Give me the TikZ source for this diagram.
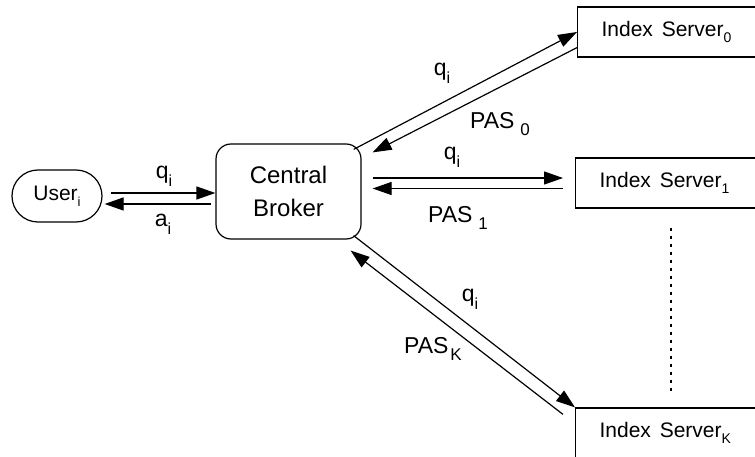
\documentclass[tikz,border=0pt]{standalone}
\usepackage{fontspec}
\setmainfont{Liberation Sans}
\usetikzlibrary{arrows.meta,calc,shapes.misc}
% lowered, smaller subscript: [#1] = drop, #2 = font size in pt, #3 = text
\newcommand\sbs[3][0.28em]{\raisebox{-#1}{\fontsize{#2}{#2}\selectfont #3}}
\newcommand\qi{q\sbs[0.36em]{16}{i}}
\newcommand\idxsrv{Index\hspace{0.42em}Server}

\begin{document}
\begin{tikzpicture}[x=1pt,y=-1pt,
  every node/.style={inner sep=0pt, font=\fontsize{21}{25}\selectfont},
  lbl/.style={font=\fontsize{23}{27}\selectfont},
  boxline/.style={draw, line width=1.2pt},
  serverbox/.style={boxline, minimum height=50pt, text width=150pt,
    inner xsep=24pt, align=left, anchor=west},
  arr/.style={line width=1.2pt, -{Triangle[length=19pt,width=13pt]}},
  dotline/.style={line width=2.2pt, dash pattern=on 3.5pt off 4.5pt},
  ]
\clip (0,0) rectangle (755,457);
\fill[white] (0,0) rectangle (755,457);

% nodes
\node[boxline, rounded rectangle, minimum width=90pt, minimum height=52pt]
  (user) at (57,196) {User\sbs{13}{i}};
\node[boxline, rounded corners=15pt, minimum width=145pt, minimum height=95pt,
  align=center, font=\fontsize{24}{33}\selectfont]
  (broker) at (288.5,191.5) {Central\\Broker};
\node[serverbox] (s0) at (577,32)  {\idxsrv\sbs{14}{0}};
\node[serverbox] (s1) at (575,183) {\idxsrv\sbs{14}{1}};
\node[serverbox] (sK) at (575,433) {\idxsrv\sbs{14}{K}};

% helper points on common rows
\coordinate (mu) at (broker.west |- user.east);
\coordinate (m1) at (broker.east |- s1.west);

% user <-> broker
\draw[arr] ($(user.east)+(8,-3)$) -- ($(mu)+(0,-3)$);
\draw[arr] ($(mu)+(-4,8)$) -- ($(user.east)+(2,8)$);

% broker <-> server 0
\draw[arr] ($(broker.north east)+(-8,6)$) -- (s0.west);
\draw[arr] ($(s0.south west)+(0,-10)$) -- ($(broker.north east)+(11,9)$);

% broker <-> server 1
\draw[arr] ($(m1)+(11,-5)$) -- ($(s1.west)+(-12,-5)$);
\draw[arr] ($(s1.west)+(-12,5.5)$) -- ($(m1)+(11,5.5)$);

% broker <-> server K
\draw[arr] ($(broker.south east)+(-8,-4)$) -- (sK.north west);
\draw[arr] ($(sK.north west)+(-12,7)$) -- ($(broker.south east)+(-11,11)$);

% servers in between
\draw[dotline] ($(s1.south)+(-4,19)$) -- ($(sK.north)+(-4,-15)$);

% labels
\node[lbl] (lqu) at (164,176) {\qi};
\node[lbl] (lau) at (163,224) {a\sbs[0.36em]{16}{i}};
\node[lbl] (lq0) at (442,73)  {\qi};
\node[lbl] (lp0) at (500,124) {PAS\hspace{6pt}\sbs{17}{0}};
\node[lbl] (lq1) at (452,157) {\qi};
\node[lbl] (lp1) at (458,218) {PAS\hspace{6pt}\sbs{17}{1}};
\node[lbl] (lqK) at (470,299) {\qi};
\node[lbl] (lpK) at (433,349) {PAS\hspace{2pt}\sbs{17}{K}};
\end{tikzpicture}
\end{document}
